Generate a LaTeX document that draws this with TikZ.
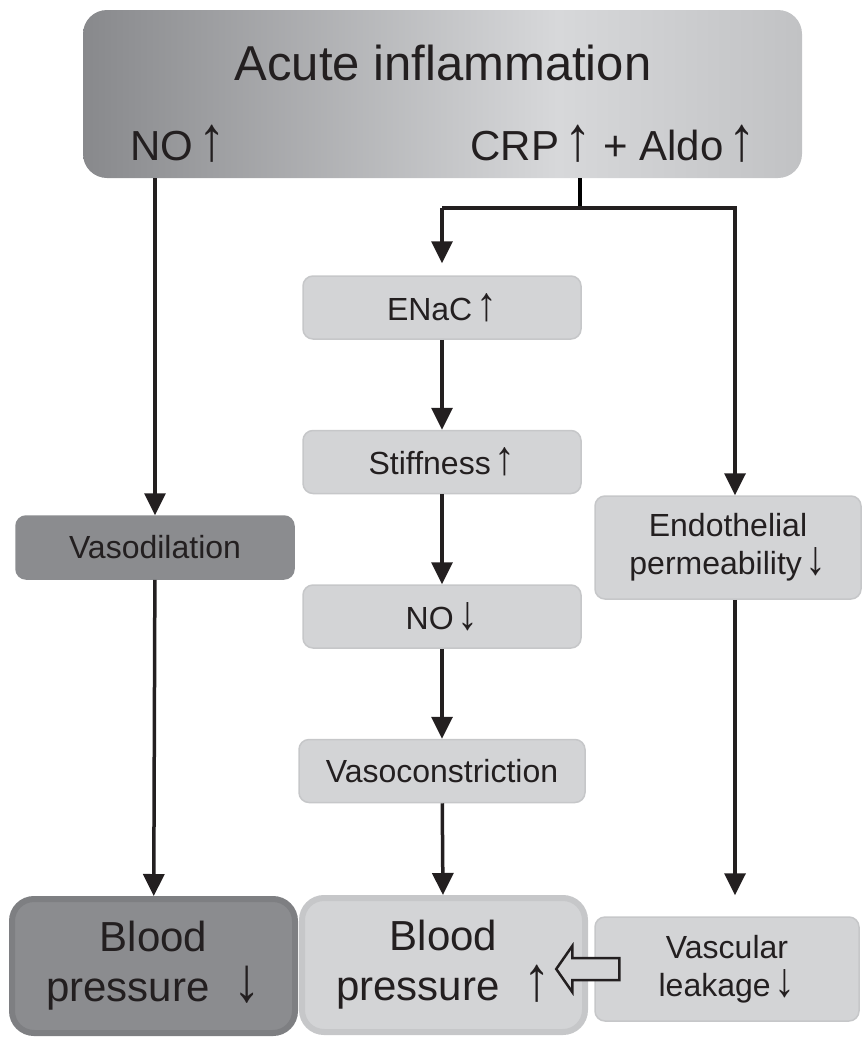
\documentclass[tikz,border=0pt]{standalone}
\usepackage{fontspec}
\setmainfont{Liberation Sans}
\usepackage{xcolor,graphicx}
\usetikzlibrary{positioning,arrows.meta}
\definecolor{ink}{HTML}{231F20}
\definecolor{boxdark}{HTML}{8B8C8F}
\definecolor{boxdarkedge}{HTML}{7E7F82}
\definecolor{boxlight}{HTML}{D3D4D6}
\definecolor{boxlightedge}{HTML}{C6C7C9}
\definecolor{topleft}{HTML}{88898C}
\definecolor{topmid}{HTML}{D7D8DA}
\definecolor{topright}{HTML}{C1C2C4}
\pgfdeclarehorizontalshading{inflam}{100bp}{color(0bp)=(topleft); color(25bp)=(topleft); color(58bp)=(topmid); color(75bp)=(topright); color(100bp)=(topright)}
\newcommand{\incr}{\hspace{0.12em}\scalebox{1.3}[1.5]{\bfseries ↑}}
\newcommand{\decr}{\hspace{0.12em}\scalebox{1.3}[1.5]{\bfseries ↓}}

\begin{document}
\begin{tikzpicture}[x=1pt,y=-1pt,node distance={90pt},
    main/.style = {fill=boxlight,draw=boxlightedge,line width=1.5pt,rounded corners=10pt,minimum width=278pt,minimum height=63pt,align=center,text=ink,font=\fontsize{32}{38}\selectfont},
    dark/.style = {main,fill=boxdark,draw=boxdark},
    big/.style = {main,line width=6pt,rounded corners=22pt,minimum width=283pt,minimum height=134pt,font=\fontsize{42}{50}\selectfont},
    arr/.style = {-{Triangle[width=21pt,length=22pt]},line width=3.5pt,ink}]
      \useasboundingbox (0,0) rectangle (864,1039);
      \node[rounded corners=24pt,shading=inflam,minimum width=719pt,minimum height=168pt] (acute) at (442.5,94) {};
      \node[anchor=base,text=ink,font=\fontsize{49}{58}\selectfont] (title) at (443,80) {Acute inflammation};
      \node[anchor=base west,inner sep=0pt,text=ink,font=\fontsize{42}{50}\selectfont] (no) at (130,160) {NO\incr};
      \node[anchor=base east,inner sep=0pt,text=ink,font=\fontsize{42}{50}\selectfont] (crp) at (756,160) {CRP\incr\ + Aldo\incr};
      \node[main] (enac) at (442,307.5) {ENaC\incr};
      \node[main] (stiff) [below=of enac] {Stiffness\incr};
      \node[main] (nodown) [below=of stiff] {NO\decr};
      \node[main,minimum width=286pt] (vcon) [below=of nodown] {Vasoconstriction};
      \node[dark] (vdil) at (155,547.5) {Vasodilation};
      \node[main,minimum width=266pt,minimum height=103pt] (endo) at (728,547.5) {Endothelial\\permeability\decr};
      \node[big,fill=boxdark,draw=boxdarkedge] (bpdown) at (153.5,966) {Blood\\pressure \,\decr};
      \node[big] (bpup) at (443.5,965) {Blood\\pressure \,\incr};
      \node[main,minimum width=264pt,minimum height=104pt] (leak) at (727,969) {Vascular\\leakage\decr};
      \coordinate (split) at (580,208);
      \coordinate (rjoin) at (735,208);
      \draw[line width=3.5pt] (acute.south -| split) -- (split);
      \draw[line width=4.5pt,ink] (enac |- split) -- ([xshift=1.75pt]rjoin);
      \draw[arr] (vdil |- acute.south) -- (vdil);
      \draw[arr,shorten >=12pt] (enac |- split) -- (enac);
      \draw[arr] (rjoin) -- (rjoin |- endo.north);
      \draw[arr] (enac) -- (stiff);
      \draw[arr] (stiff) -- (nodown);
      \draw[arr] (nodown) -- (vcon);
      \draw[arr] (vcon) -- (bpup);
      \draw[arr] (vdil) -- (bpdown);
      \draw[arr,shorten >=21pt] (rjoin |- endo.south) -- (rjoin |- leak.north);
      \draw[fill=boxlight,line width=2.5pt,draw=ink,line join=miter] ([xshift=25pt,yshift=11pt]leak.west) -- ([xshift=-22pt,yshift=11pt]leak.west) -- ([xshift=-22pt,yshift=23pt]leak.west) -- ([xshift=-38pt]leak.west) -- ([xshift=-22pt,yshift=-23pt]leak.west) -- ([xshift=-22pt,yshift=-11pt]leak.west) -- ([xshift=25pt,yshift=-11pt]leak.west) -- cycle;
    \end{tikzpicture}
\end{document}
